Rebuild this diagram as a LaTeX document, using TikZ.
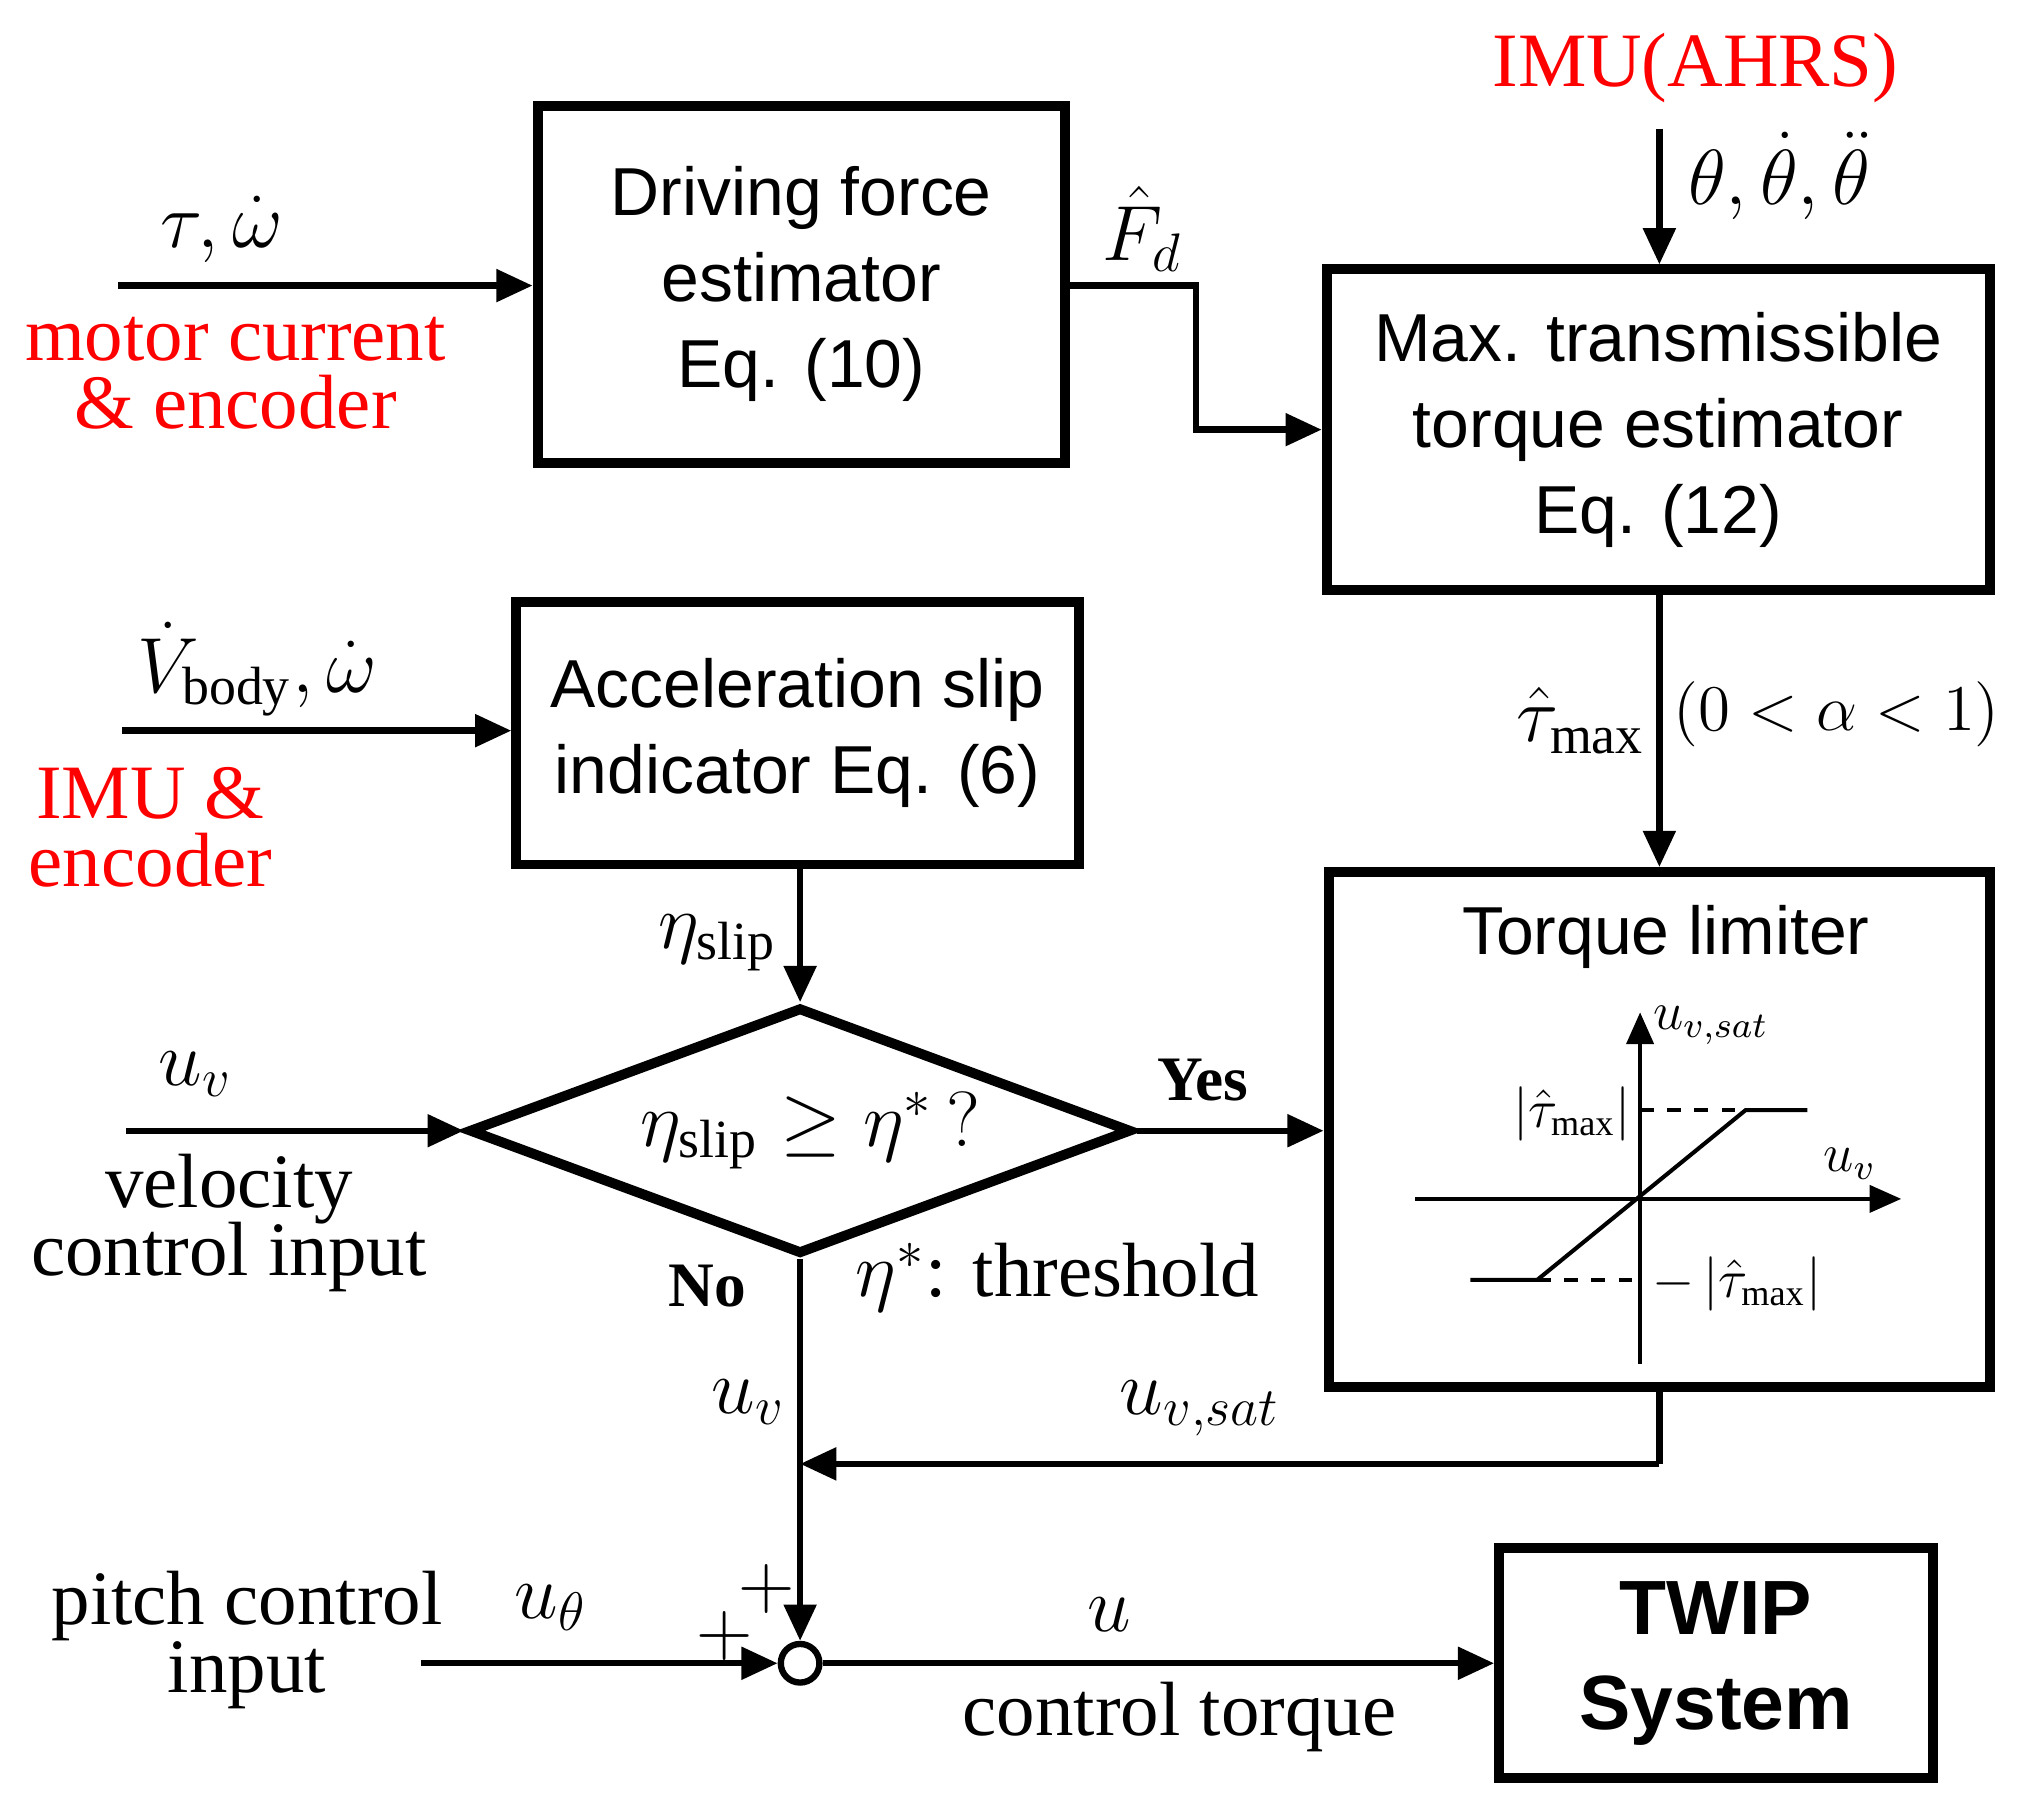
\documentclass[tikz,border=0pt]{standalone}
\usepackage{fontspec}
\setmainfont{Liberation Serif}
\newfontfamily\sff{Liberation Sans}
\usetikzlibrary{arrows.meta,shapes.geometric}
\begin{document}
\begin{tikzpicture}[x=0.01cm,y=-0.01cm,
  box/.style={draw,line width=2.2pt,inner sep=0pt,font=\sff\fontsize{15}{19}\selectfont,align=center},
  arr/.style={line width=1.4pt,-{Triangle[length=8pt,width=7pt]}},
  ln/.style={line width=1.4pt},
  lab/.style={font=\fontsize{17}{19}\selectfont,inner sep=1pt},
  red/.style={text=red,font=\fontsize{17}{18}\selectfont,align=center}]
\useasboundingbox (0,0) rectangle (1568,1402);
\node[box,minimum width=4.10cm,minimum height=2.77cm] (dfe) at (623,221) {Driving force\\[0pt]estimator\\[0pt]Eq. (10)};
\node[box,minimum width=5.15cm,minimum height=2.49cm] (mte) at (1289,334) {Max. transmissible\\[0pt]torque estimator\\[0pt]Eq. (12)};
\node[box,minimum width=4.37cm,minimum height=2.04cm] (asi) at (620,570) {Acceleration slip\\[0pt]indicator Eq. (6)};
\node[box,minimum width=5.14cm,minimum height=4.00cm] (tl) at (1290,878) {};
\node[font=\sff\fontsize{15}{19}\selectfont] (tlt) at (1295,728) {Torque limiter};
\node[box,minimum width=3.37cm,minimum height=1.79cm,font=\sff\bfseries\fontsize{17}{21}\selectfont] (twip) at (1334,1293) {TWIP\\System};
\node[draw,diamond,line width=2.2pt,minimum width=5.15cm,minimum height=1.92cm,inner sep=0pt] (dia) at (622,879) {};
\node[lab] (dtxt) at (630,879) {$\eta_{\mathrm{slip}}\ge\eta^{*}\,?$};
\node[draw,circle,line width=1.4pt,minimum size=0.30cm,inner sep=0pt] (sum) at (622,1293) {};
% coordinates
\coordinate (tin) at (92,222);
\coordinate (vin) at (95,568);
\coordinate (uin) at (98,879);
\coordinate (pin) at (327,1293);
\coordinate (imu) at (1290,100);
\coordinate (f1) at (930,222);
\coordinate (f2) at (930,334);
\coordinate (s1) at (1290,1138);
\coordinate (s2) at (622,1138);
% connectors
\draw[arr] (tin) -- (dfe.west|-tin);
\draw[arr] (dfe.east|-f1) -- (f1) -- (f2) -- (mte.west|-f2);
\draw[arr] (imu) -- (mte.north-|imu);
\draw[arr] (mte.south-|imu) -- (tl.north-|imu);
\draw[arr] (vin) -- (asi.west|-vin);
\draw[arr] (asi.south-|dia.north) -- (dia.north);
\draw[arr] (uin) -- (dia.west);
\draw[arr] (dia.east) -- (tl.west|-dia.east);
\draw[arr] (dia.south) -- (sum.north);
\draw[ln] (tl.south-|s1) -- (s1);
\draw[arr] (s1) -- (s2);
\draw[arr] (pin) -- (sum.west);
\draw[arr] (sum.east) -- (twip.west|-sum.east);
% labels
\node[lab] at (172,178) {$\tau,\dot\omega$};
\node[red] at (183,290) {motor current\\[-3pt]\& encoder};
\node[lab] at (888,178) {$\hat F_d$};
\node[red] at (1318,53) {IMU(AHRS)};
\node[lab] at (1383,137) {$\theta,\dot\theta,\ddot\theta$};
\node[lab] at (200,520) {$\dot V_{\mathrm{body}},\dot\omega$};
\node[red] at (117,643) {IMU \&\\[-3pt]encoder};
\node[lab,anchor=east] at (1283,560) {$\hat\tau_{\max}$};
\node[lab,anchor=west,font=\fontsize{15}{17}\selectfont] at (1297,555) {$(0<\alpha<1)$};
\node[lab] at (558,733) {$\eta_{\mathrm{slip}}$};
\node[lab] at (152,835) {$u_v$};
\node[font=\fontsize{17}{18}\selectfont,align=center] at (178,951) {velocity\\[-3pt]control input};
\node[font=\bfseries\fontsize{14}{16}\selectfont] at (935,840) {Yes};
\node[font=\bfseries\fontsize{14}{16}\selectfont] at (550,1000) {No};
\node[lab] at (822,993) {$\eta^{*}$: threshold};
\node[lab] at (582,1090) {$u_v$};
\node[lab] at (933,1095) {$u_{v,sat}$};
\node[lab] at (596,1235) {$+$};
\node[lab] at (563,1272) {$+$};
\node[lab] at (428,1250) {$u_\theta$};
\node[font=\fontsize{17}{18}\selectfont,align=center] at (192,1275) {pitch control\\[-3pt]input};
\node[lab] at (862,1255) {$u$};
\node[font=\fontsize{17}{18}\selectfont] at (917,1335) {control torque};
% inner graph
\coordinate (o) at (1275,932);
\draw[line width=0.8pt,-{Triangle[length=7pt,width=6pt]}] (1100,932) -- (1478,932);
\draw[line width=0.8pt,-{Triangle[length=7pt,width=6pt]}] (1275,1060) -- (1275,787);
\draw[line width=0.9pt] (1143,995) -- (1195,995) -- (1357,863) -- (1405,863);
\draw[line width=0.8pt,dashed] (1275,863) -- (1357,863);
\draw[line width=0.8pt,dashed] (1195,995) -- (1275,995);
\node[font=\fontsize{12}{14}\selectfont] at (1330,797) {$u_{v,sat}$};
\node[font=\fontsize{12}{14}\selectfont] at (1438,905) {$u_v$};
\node[font=\fontsize{12}{14}\selectfont] at (1222,866) {$\left|\hat\tau_{\max}\right|$};
\node[font=\fontsize{12}{14}\selectfont] at (1350,998) {$-\left|\hat\tau_{\max}\right|$};
\end{tikzpicture}
\end{document}
